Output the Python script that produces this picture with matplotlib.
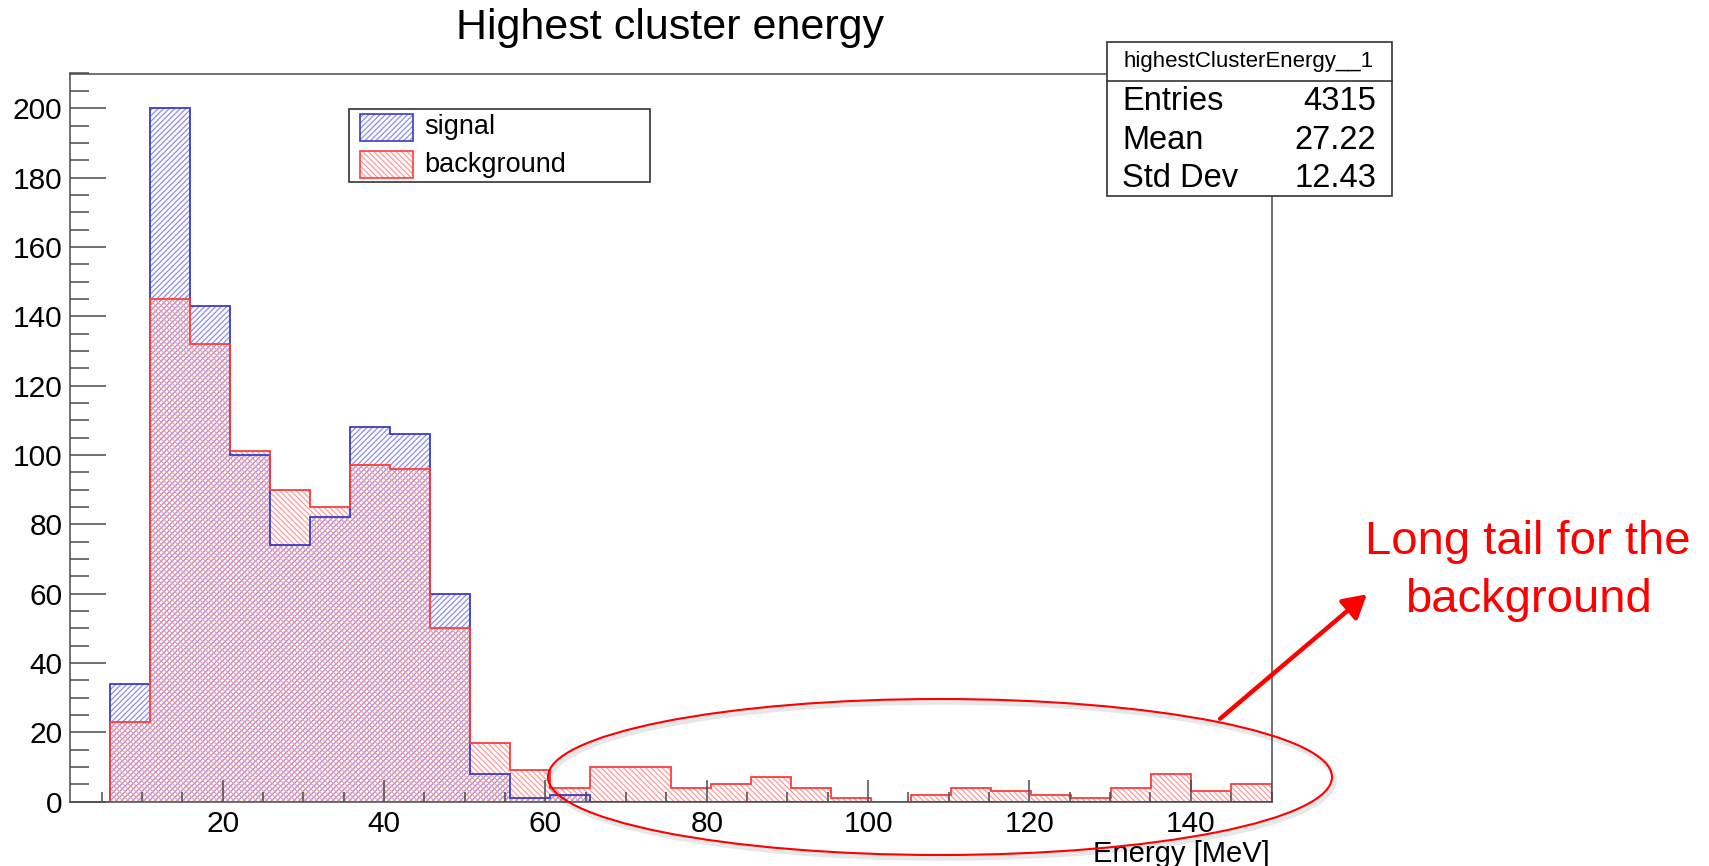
import numpy as np
import matplotlib
matplotlib.use("Agg")
import matplotlib.pyplot as plt
import matplotlib.transforms as mtransforms
from matplotlib.patches import Rectangle, Ellipse, FancyArrowPatch
from matplotlib.ticker import MultipleLocator

# 30 bins between 1 and 150 MeV
bin_edges = np.linspace(1, 150, 31)

signal = [0, 34, 200, 143, 100, 74, 82, 108, 106, 60,
          8, 1, 2, 0, 0, 0, 0, 0, 0, 0,
          0, 0, 0, 0, 0, 0, 0, 0, 0, 0]
background = [0, 23, 145, 132, 101, 90, 85, 97, 96, 50,
              17, 9, 4, 10, 10, 4, 5, 7, 4, 1,
              0, 2, 4, 3, 2, 1, 4, 8, 3, 5]

stats_name = "highestClusterEnergy__1"
stats_rows = [("Entries", "4315"), ("Mean", "27.22"), ("Std Dev", "12.43")]

W, H = 1709, 866
plt.rcParams["font.family"] = ["Liberation Sans", "DejaVu Sans"]
plt.rcParams["hatch.linewidth"] = 0.9

fig = plt.figure(figsize=(W / 100, H / 100), dpi=100)
fig.patch.set_facecolor("white")

# pixel coordinates measured from the top-left corner of the canvas
pix = mtransforms.Affine2D().scale(1 / W, -1 / H).translate(0, 1) + fig.transFigure

ax_l, ax_r, ax_t, ax_b = 69.5, 1271.5, 73.5, 801.7
ax = fig.add_axes([ax_l / W, 1 - ax_b / H, (ax_r - ax_l) / W, (ax_b - ax_t) / H])

sig_edge, sig_hatch = "#3b3bc4", "#8c8cf2"
bkg_edge, bkg_hatch = "#ff3c3c", "#ff9a9a"
sig_pat, bkg_pat = "//////", "\\\\\\\\\\\\"

ax.stairs(signal, bin_edges, fill=True, facecolor="none", edgecolor=sig_hatch,
          hatch=sig_pat, linewidth=0)
ax.stairs(background, bin_edges, fill=True, facecolor="none", edgecolor=bkg_hatch,
          hatch=bkg_pat, linewidth=0)
ax.stairs(signal, bin_edges, color=sig_edge, linewidth=1.3)
ax.stairs(background, bin_edges, color=bkg_edge, linewidth=1.3)
ax.plot([bin_edges[0], bin_edges[1]], [0, 0], color=bkg_edge, lw=1.3)

ax.set_xlim(1, 150)
ax.set_ylim(0, 210)

ax.xaxis.set_major_locator(MultipleLocator(20))
ax.xaxis.set_minor_locator(MultipleLocator(5))
ax.yaxis.set_major_locator(MultipleLocator(20))
ax.yaxis.set_minor_locator(MultipleLocator(5))

axis_col = "#4a4a4a"
ax.tick_params(axis="both", which="both", direction="in", color=axis_col,
               width=1.1, labelsize=21.5, top=False, right=False)
ax.tick_params(axis="y", which="major", length=26, pad=5)
ax.tick_params(axis="y", which="minor", length=13.5)
ax.tick_params(axis="x", which="major", length=16, pad=6)
ax.tick_params(axis="x", which="minor", length=7.5)
for s in ax.spines.values():
    s.set_color(axis_col)
    s.set_linewidth(1.1)

# title and axis label
fig.text(670, 28, "Highest cluster energy", transform=pix, fontsize=31,
         ha="center", va="center")
fig.text(1270, 862, "Energy [MeV]", transform=pix, fontsize=21,
         ha="right", va="baseline")

# legend box
fig.add_artist(Rectangle((348.5, 109), 301.5, 72.5, transform=pix, facecolor="white",
                         edgecolor="#333333", linewidth=1.2))
legend_items = [("signal", sig_edge, sig_hatch, sig_pat, 114),
                ("background", bkg_edge, bkg_hatch, bkg_pat, 151)]
for label, edge, hcol, hatch, top in legend_items:
    fig.add_artist(Rectangle((359.5, top), 53.5, 27, transform=pix, facecolor="none",
                             edgecolor=hcol, hatch=hatch, linewidth=0))
    fig.add_artist(Rectangle((359.5, top), 53.5, 27, transform=pix, facecolor="none",
                             edgecolor=edge, linewidth=1.2))
    fig.text(424, top + 13.5, label, transform=pix, fontsize=19.5, ha="left", va="center")

# statistics box
fig.add_artist(Rectangle((1106.7, 42.3), 285, 153.7, transform=pix, facecolor="white",
                         edgecolor="#333333", linewidth=1.2, zorder=3))
fig.add_artist(plt.Line2D([1106.7, 1391.7], [81, 81], transform=pix, color="#333333",
                          linewidth=1.2, zorder=3))
fig.text(1249, 61, stats_name, transform=pix, fontsize=16, ha="center", va="center",
         zorder=4)
for (name, val), y in zip(stats_rows, [101.5, 140.5, 178.5]):
    fig.text(1122, y, name, transform=pix, fontsize=23.5, ha="left", va="center", zorder=4)
    fig.text(1376, y, val, transform=pix, fontsize=23.5, ha="right", va="center", zorder=4)

# call-out for the background tail
for dx, dy, col, lw in [(2, 3, "#00000018", 4), (0, 0, "red", 1.5)]:
    fig.add_artist(Ellipse((940 + dx, 777 + dy), 784, 156, transform=pix, fill=False,
                           edgecolor=col, linewidth=lw, zorder=5))
fig.add_artist(FancyArrowPatch((1218, 720.5), (1369, 592.5), transform=pix,
                               arrowstyle="-|>,head_length=0.7,head_width=0.4",
                               mutation_scale=20, color="red", linewidth=3.2, zorder=5))
fig.text(1528, 554, "Long tail for the", transform=pix, fontsize=34, color="red",
         ha="center", va="baseline")
fig.text(1528, 612, "background", transform=pix, fontsize=34, color="red",
         ha="center", va="baseline")

fig.savefig("out.png", dpi=100)
